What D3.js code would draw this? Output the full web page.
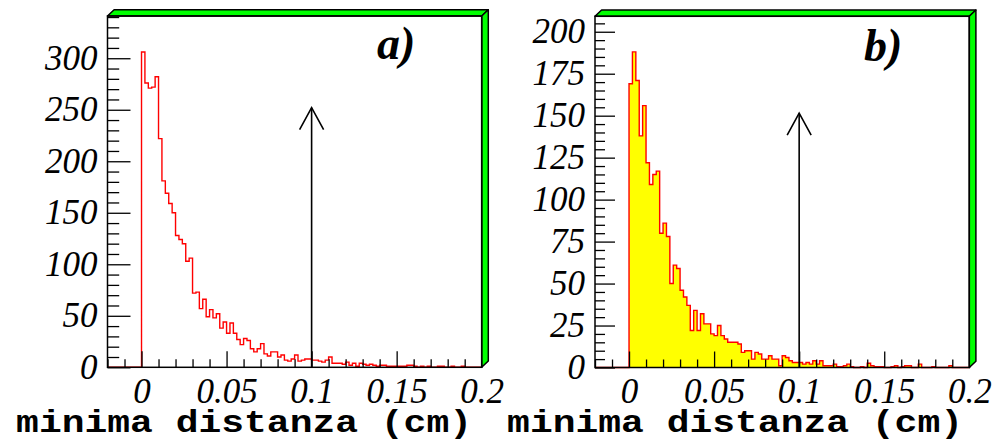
<!DOCTYPE html>
<html><head><meta charset="utf-8">
<script src="https://cdn.jsdelivr.net/npm/d3@7"></script>
<style>body{margin:0;background:#fff}svg{display:block}</style>
</head><body><svg id="c" width="992" height="441"></svg>
<script>
// ---------------- data ----------------
const binWidth = 0.002;          // histogram bin width (cm)
const binStart = 0;              // first bin low edge
const xDomain = [-0.02, 0.2];
const countsA = [306,276,271,272,282,222,181,169,159,150,128,124,120,103,106,72,73,57,66,49,
  56,48,52,38,44,33,43,33,27,22,28,26,18,15,18,23,13,11,15,15,
  10,12,7,6,8,12,6,7,8,8,7,7,6,5,7,10,4,4,4,3,
  5,2,4,1,4,3,2,3,2,1,2,2,1,1,1,1,1,1,2,2,
  1,0,1,0,1,0,0,1,1,0,0,1,0,0,1,0,0,0,0,0];
const countsB = [169,188,171,138,156,122,109,115,117,80,86,78,50,61,59,46,42,37,22,34,
  22,32,26,26,20,19,25,19,17,15,15,15,14,9,10,10,5,9,8,5,
  5,7,5,5,1,7,6,4,3,3,3,2,3,2,4,2,4,1,1,1,
  2,0.5,0.5,1,2,0.5,0,0,0.5,0,2.5,1,0.5,0.5,0.5,0,0,0.5,1,0,
  0.5,1,1,0,0,2,0,0,0,0.5,0,0,0,0,1,0,0,0,0,0];
const xMajorTicks = [0, 0.05, 0.1, 0.15, 0.2];
const xTickLabels = ["0", "0.05", "0.1", "0.15", "0.2"];
const yTicksA = [0, 50, 100, 150, 200, 250, 300];
const yTicksB = [0, 25, 50, 75, 100, 125, 150, 175, 200];
const yMaxA = 341, yMaxB = 209.2;
const arrowX = 0.1;
const arrowTopA = 252, arrowTopB = 151.5;
const panelLabels = ["a)", "b)"];
const xTitle = "minima distanza (cm)";

// ---------------- layout ----------------
const svg = d3.select("#c");
svg.append("rect").attr("width", 992).attr("height", 441).attr("fill", "#fff");

const panels = [
  {counts: countsA, yMax: yMaxA, yTicks: yTicksA, yMinorStep: 10, arrowTop: arrowTopA, label: panelLabels[0],
   L: 107.5, R: 481.7, T: 16, B: 367.3, fill: null, yMajLen: 23, yMinLen: 11.7,
   labelX: 377, labelY: 59, titleEnd: 472},
  {counts: countsB, yMax: yMaxB, yTicks: yTicksB, yMinorStep: 5, arrowTop: arrowTopB, label: panelLabels[1],
   L: 595, R: 969.3, T: 16.3, B: 367.5, fill: "#ffff00", yMajLen: 20, yMinLen: 10,
   labelX: 864, labelY: 61, titleEnd: 963}
];

panels.forEach(p => {
  const x = d3.scaleLinear().domain(xDomain).range([p.L, p.R]);
  const y = d3.scaleLinear().domain([0, p.yMax]).range([p.B, p.T]);
  const g = svg.append("g");

  // histogram points (step after), including empty region before first bin
  const pts = [[xDomain[0], 0]];
  p.counts.forEach((c, i) => pts.push([binStart + i * binWidth, c]));
  pts.push([binStart + p.counts.length * binWidth, p.counts[p.counts.length - 1]]);

  if (p.fill) {
    const area = d3.area().curve(d3.curveStepAfter)
      .x(d => x(d[0])).y0(y(0)).y1(d => y(d[1]));
    g.append("path").datum(pts).attr("d", area).attr("fill", p.fill);
  }
  const line = d3.line().curve(d3.curveStepAfter).x(d => x(d[0])).y(d => y(d[1]));
  g.append("path").datum(pts).attr("d", line)
    .attr("fill", "none").attr("stroke", "#ff0000").attr("stroke-width", 1.4);

  // x axis ticks (inward)
  const minorX = d3.range(-2, 21).map(i => i / 100).filter(v => !xMajorTicks.some(m => Math.abs(m - v) < 1e-9));
  const ax1 = g.append("g").attr("transform", `translate(0,${p.B})`)
    .call(d3.axisBottom(x).tickValues(minorX).tickSize(-8).tickFormat(""));
  const ax2 = g.append("g").attr("transform", `translate(0,${p.B})`)
    .call(d3.axisBottom(x).tickValues(xMajorTicks).tickSize(-16).tickPadding(11)
      .tickFormat((d, i) => xTickLabels[i]));
  [ax1, ax2].forEach(a => { a.select(".domain").remove(); a.selectAll("line").attr("stroke", "#000").attr("stroke-width", 1.3); });
  ax2.selectAll("text").attr("fill", "#000").attr("font-family", "Liberation Serif, Times New Roman, serif")
    .attr("font-style", "italic").attr("font-size", 35).attr("dy", "0.71em");

  // y axis ticks (inward)
  const minorY = d3.range(0, p.yMax, p.yMinorStep).filter(v => !p.yTicks.includes(v));
  const ay1 = g.append("g").attr("transform", `translate(${p.L},0)`)
    .call(d3.axisLeft(y).tickValues(minorY).tickSize(-p.yMinLen).tickFormat(""));
  const ay2 = g.append("g").attr("transform", `translate(${p.L},0)`)
    .call(d3.axisLeft(y).tickValues(p.yTicks).tickSize(-p.yMajLen).tickPadding(10));
  [ay1, ay2].forEach(a => { a.select(".domain").remove(); a.selectAll("line").attr("stroke", "#000").attr("stroke-width", 1.3); });
  ay2.selectAll("text").attr("fill", "#000").attr("font-family", "Liberation Serif, Times New Roman, serif")
    .attr("font-style", "italic").attr("font-size", 35);

  // arrow at cut value
  const ax = x(arrowX), ay0 = y(0), ayT = y(p.arrowTop);
  g.append("line").attr("x1", ax).attr("x2", ax).attr("y1", ay0).attr("y2", ayT)
    .attr("stroke", "#000").attr("stroke-width", 1.6);
  g.append("path").attr("d", `M${ax - 12},${ayT + 22}L${ax},${ayT}L${ax + 12},${ayT + 22}`)
    .attr("fill", "none").attr("stroke", "#000").attr("stroke-width", 1.6);

  // frame with 3D green border
  const dx = 6.6, dy = 6.3;
  g.append("path").attr("d", `M${p.L},${p.T}L${p.L + dx},${p.T - dy}L${p.R + dx},${p.T - dy}L${p.R},${p.T}Z`)
    .attr("fill", "#00ff00").attr("stroke", "#000").attr("stroke-width", 1.5).attr("stroke-linejoin", "round");
  g.append("path").attr("d", `M${p.R},${p.T}L${p.R + dx},${p.T - dy}L${p.R + dx},${p.B - dy}L${p.R},${p.B}Z`)
    .attr("fill", "#00ff00").attr("stroke", "#000").attr("stroke-width", 1.5).attr("stroke-linejoin", "round");
  g.append("rect").attr("x", p.L).attr("y", p.T).attr("width", p.R - p.L).attr("height", p.B - p.T)
    .attr("fill", "none").attr("stroke", "#000").attr("stroke-width", 1.5);

  // panel label
  g.append("text").attr("x", p.labelX).attr("y", p.labelY).text(p.label)
    .attr("font-family", "Liberation Serif, Times New Roman, serif").attr("font-weight", "bold")
    .attr("font-style", "italic").attr("font-size", 46).attr("fill", "#000");

  // axis title (slightly flattened to mimic Courier proportions)
  g.append("text").attr("transform", `translate(${p.titleEnd},432) scale(1,0.84)`)
    .attr("text-anchor", "end").text(xTitle)
    .attr("font-family", "Liberation Mono, Courier New, monospace").attr("font-weight", "bold")
    .attr("font-size", 38).attr("fill", "#000");
});
</script>
</body></html>
